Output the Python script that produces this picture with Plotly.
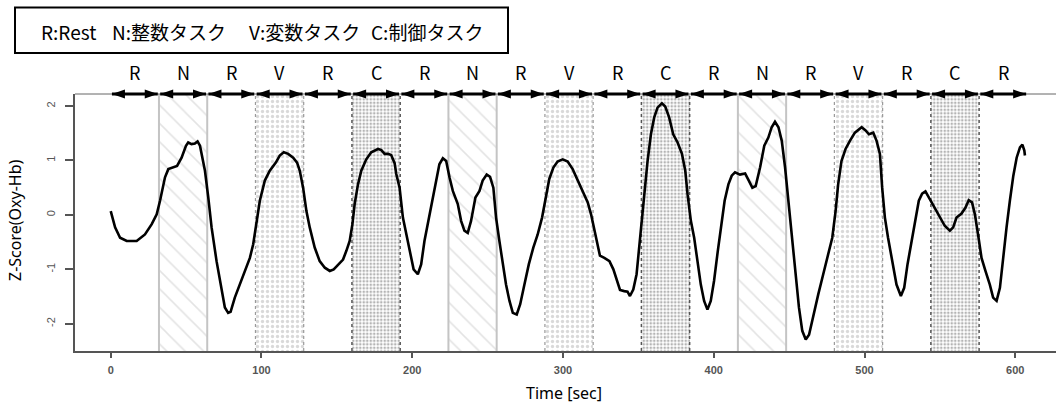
import plotly.graph_objects as go

# ---------------- data ----------------
time_sec = [0, 2.9, 6.2, 10.6, 17.2, 22.7, 27.2, 30.5, 32.7, 36, 38.2, 41.5, 44, 47, 49.9, 51.4, 53.6, 55.8,
            57.6, 59.2, 60.9, 62.5, 64.7, 66.9, 70.2, 73.5, 75.7, 77.9, 79.5, 82.3, 85.7, 89, 92.3, 94.5,
            96.7, 98.9, 102.2, 105.5, 109.5, 112.1, 114.8, 117.7, 121, 123.6, 125.4, 127.6, 129.8, 132,
            135.3, 138.6, 142, 145.3, 147.9, 150.8, 154.1, 156.3, 158.5, 160.3, 161.8, 164, 166.2, 169.5,
            172.8, 177.3, 179.5, 181.7, 183.9, 186, 188.3, 189.4, 191.6, 193.8, 196, 198.2, 200.9, 203.7,
            205.9, 208.1, 211, 213.7, 215.9, 218, 220.3, 222.5, 224.7, 226.9, 230.2, 232.4, 234.6, 236.8,
            239, 241.9, 244.6, 246.7, 249.4, 251.6, 253.8, 255.6, 257.8, 260, 262.2, 264.5, 266.7, 269.3,
            271.6, 274.4, 277.3, 280.3, 283.2, 286.1, 288.7, 290.9, 293.6, 296.4, 299.8, 303.1, 306.4,
            309.7, 313.1, 316.4, 318.6, 321.5, 324.5, 327.4, 330.8, 333.4, 335.6, 337.8, 340.6, 342.8,
            344.4, 346.6, 348.8, 350.5, 352.3, 353.9, 356.1, 358.3, 360.5, 362.7, 365.6, 367.8, 370.4,
            373.1, 376, 378.9, 381.1, 382.6, 384.8, 387, 389.2, 391.4, 393.6, 395.8, 398, 400.2, 402.6,
            405, 407.2, 409.7, 411.9, 414.1, 417.4, 420.8, 423, 425.6, 427.8, 430.7, 433.5, 436.2, 438.4,
            440.6, 442.9, 445.1, 447.3, 449.5, 451.6, 453.9, 456.5, 458.7, 461, 463.2, 466, 469.3, 472.6,
            475.9, 478.6, 480.8, 482.5, 484.7, 487.4, 490.3, 493.6, 498.1, 500.7, 502.9, 505.8, 508, 510.2,
            511.7, 513.5, 515.6, 518.3, 521.2, 524.1, 526.3, 528.5, 531.2, 533.3, 536, 538.2, 540.4, 543.3,
            546.6, 549.9, 553.2, 556.6, 558.8, 561, 564.2, 566.9, 569.1, 571.3, 573.2, 575.3, 577.6, 580.2,
            583.1, 585.3, 587.6, 589.8, 592, 594.2, 596.4, 598.7, 600.9, 603.1, 604.7, 606, 606.4]

z_score = [0.07, -0.23, -0.42, -0.48, -0.48, -0.36, -0.17, 0.01, 0.26, 0.69, 0.84, 0.88, 0.90, 1.05, 1.27, 1.33,
           1.30, 1.31, 1.35, 1.27, 1.05, 0.81, 0.32, -0.23, -0.85, -1.40, -1.70, -1.80, -1.78, -1.52, -1.28,
           -1.03, -0.79, -0.54, -0.17, 0.26, 0.63, 0.81, 0.96, 1.09, 1.15, 1.12, 1.05, 0.96, 0.81, 0.50, 0.07,
           -0.23, -0.60, -0.85, -0.97, -1.03, -1.00, -0.91, -0.82, -0.66, -0.48, -0.17, 0.20, 0.56, 0.81, 1.02,
           1.15, 1.21, 1.19, 1.12, 1.12, 1.10, 0.95, 0.75, 0.50, -0.05, -0.36, -0.66, -1.00, -1.09, -0.91,
           -0.48, -0.05, 0.32, 0.69, 0.93, 1.04, 0.99, 0.69, 0.44, 0.20, -0.11, -0.29, -0.33, -0.11, 0.32,
           0.44, 0.63, 0.74, 0.70, 0.50, -0.05, -0.48, -0.91, -1.28, -1.58, -1.80, -1.83, -1.64, -1.28, -0.91,
           -0.60, -0.36, -0.05, 0.38, 0.66, 0.87, 0.98, 1.02, 0.98, 0.84, 0.63, 0.44, 0.23, 0.01, -0.36, -0.75,
           -0.79, -0.85, -1.00, -1.21, -1.38, -1.40, -1.41, -1.49, -1.37, -1.09, -0.60, -0.11, 0.44, 0.99,
           1.48, 1.79, 1.97, 2.05, 1.99, 1.79, 1.48, 1.33, 1.12, 0.81, 0.38, -0.11, -0.42, -0.85, -1.28, -1.58,
           -1.74, -1.58, -1.21, -0.68, -0.17, 0.26, 0.56, 0.72, 0.78, 0.74, 0.76, 0.63, 0.50, 0.53, 0.87, 1.27,
           1.42, 1.61, 1.71, 1.61, 1.36, 0.87, 0.26, -0.42, -1.09, -1.70, -2.13, -2.29, -2.20, -1.83, -1.46,
           -1.09, -0.72, -0.42, 0.07, 0.56, 0.99, 1.21, 1.36, 1.51, 1.61, 1.55, 1.48, 1.51, 1.36, 1.12, 0.50,
           -0.05, -0.42, -0.85, -1.28, -1.49, -1.34, -0.91, -0.48, -0.11, 0.26, 0.39, 0.43, 0.29, 0.13, -0.02,
           -0.20, -0.29, -0.23, -0.05, 0.02, 0.13, 0.27, 0.23, 0.01, -0.36, -0.79, -1.03, -1.28, -1.52, -1.58,
           -1.34, -0.72, -0.23, 0.26, 0.72, 1.05, 1.24, 1.29, 1.18, 1.09]

block_labels = ['R', 'N', 'R', 'V', 'R', 'C', 'R', 'N', 'R', 'V', 'R', 'C', 'R', 'N', 'R', 'V', 'R', 'C', 'R']
block_length = 32  # seconds per block

legend_items = ['R:Rest', 'N:整数タスク', 'V:変数タスク', 'C:制御タスク']

x_ticks = [0, 100, 200, 300, 400, 500, 600]
y_ticks = [-2, -1, 0, 1, 2]

# ---------------- layout geometry ----------------
W, H = 1056, 405
ML, MR, MT, MB = 75, 0, 94, 54
PW, PH = W - ML - MR, H - MT - MB
X_RANGE = [-23.7, 627]
Y_RANGE = [-2.5, 2.22]


def px_x(p):
    return (p - ML) / PW


def px_y(p):
    return (H - MB - p) / PH


fig = go.Figure()

# task shading
styles = {
    'N': dict(shape='\\', fg='#c8c8c8', size=13, solidity=0.12, edge='#c4c4c4', dash='solid', ew=2),
    'V': dict(shape='.', fg='#b4b4b4', size=5, solidity=0.35, edge='#9a9a9a', dash='dot', ew=1.2),
    'C': dict(shape='.', fg='#6a6a6a', size=3.5, solidity=0.45, edge='#555555', dash='dot', ew=1.5),
}
for i, lab in enumerate(block_labels):
    if lab == 'R':
        continue
    st = styles[lab]
    s, e = i * block_length, (i + 1) * block_length
    fig.add_trace(go.Bar(
        x=[(s + e) / 2], y=[Y_RANGE[1] - Y_RANGE[0]], base=[Y_RANGE[0]], width=[block_length],
        marker=dict(color='white', line=dict(width=0),
                    pattern=dict(shape=st['shape'], fgcolor=st['fg'], bgcolor='white',
                                 size=st['size'], solidity=st['solidity'], fillmode='overlay')),
        showlegend=False, hoverinfo='skip'))
    fig.add_trace(go.Scatter(
        x=[s, s, None, e, e], y=[Y_RANGE[0], Y_RANGE[1], None, Y_RANGE[0], Y_RANGE[1]],
        mode='lines', line=dict(color=st['edge'], width=st['ew'], dash=st['dash']),
        showlegend=False, hoverinfo='skip'))

# signal curve
fig.add_trace(go.Scatter(x=time_sec, y=z_score, mode='lines',
                         line=dict(color='black', width=2.6), showlegend=False))

shapes = []
annotations = []

# top border of the box
shapes.append(dict(type='line', xref='paper', yref='paper', x0=0, x1=1, y0=1, y1=1,
                   line=dict(color='#666666', width=1)))

# block arrows and labels
for i, lab in enumerate(block_labels):
    s, e = i * block_length + 0.8, (i + 1) * block_length - 0.8
    shapes.append(dict(type='line', xref='x', yref='paper', x0=s, x1=e, y0=1.0, y1=1.0,
                       line=dict(color='black', width=3), layer='above'))
    shapes.append(dict(type='path', xref='x', yref='paper', xsizemode='pixel', ysizemode='pixel',
                       xanchor=e, yanchor=1.0, path='M0,0 L-13,4.5 L-13,-4.5 Z',
                       fillcolor='black', line=dict(width=0), layer='above'))
    shapes.append(dict(type='path', xref='x', yref='paper', xsizemode='pixel', ysizemode='pixel',
                       xanchor=s, yanchor=1.0, path='M0,0 L13,4.5 L13,-4.5 Z',
                       fillcolor='black', line=dict(width=0), layer='above'))
    annotations.append(dict(x=(i + 0.5) * block_length, y=px_y(72), xref='x', yref='paper',
                            text=lab, showarrow=False, xanchor='center', yanchor='middle',
                            font=dict(family='Noto Sans CJK JP', size=18, color='black')))

# legend box
shapes.append(dict(type='rect', xref='paper', yref='paper', x0=px_x(15), x1=px_x(508),
                   y0=px_y(53), y1=px_y(7.5), line=dict(color='black', width=2), fillcolor='white'))
legend_x = [39, 110, 247, 369]
for txt, lx in zip(legend_items, legend_x):
    annotations.append(dict(x=px_x(lx), y=px_y(31.5), xref='paper', yref='paper', text=txt,
                            showarrow=False, xanchor='left', yanchor='middle',
                            font=dict(family='Noto Sans CJK JP', size=19, color='black')))

# axis titles
annotations.append(dict(x=px_x(15), y=px_y(220), xref='paper', yref='paper', text='Z-Score(Oxy-Hb)',
                        showarrow=False, textangle=-90, xanchor='center', yanchor='middle',
                        font=dict(family='Noto Sans', size=16, color='black')))
annotations.append(dict(x=px_x(564), y=px_y(393), xref='paper', yref='paper', text='Time [sec]',
                        showarrow=False, xanchor='center', yanchor='middle',
                        font=dict(family='Noto Sans', size=16, color='black')))

fig.update_layout(
    width=W, height=H, margin=dict(l=ML, r=MR, t=MT, b=MB, pad=0),
    plot_bgcolor='white', paper_bgcolor='white', barmode='overlay', bargap=0,
    shapes=shapes, annotations=annotations, showlegend=False,
    xaxis=dict(range=X_RANGE, tickvals=x_ticks, ticktext=[str(v) for v in x_ticks],
               showgrid=False, zeroline=False, showline=True, linecolor='#555555', linewidth=1.5,
               ticks='outside', ticklen=5, tickwidth=1.5, tickcolor='#555555', ticklabelstandoff=3,
               tickfont=dict(family='Liberation Sans', size=11, color='#555555', weight='bold')),
    yaxis=dict(range=Y_RANGE, tickvals=y_ticks, ticktext=[str(v) for v in y_ticks],
               showgrid=False, zeroline=False, showline=True, linecolor='#555555', linewidth=1.5,
               ticks='outside', ticklen=8, tickwidth=1.5, tickcolor='#555555', tickangle=-90,
               ticklabelstandoff=6,
               tickfont=dict(family='Liberation Sans', size=11, color='#555555')),
)

fig.write_html('out.html')
